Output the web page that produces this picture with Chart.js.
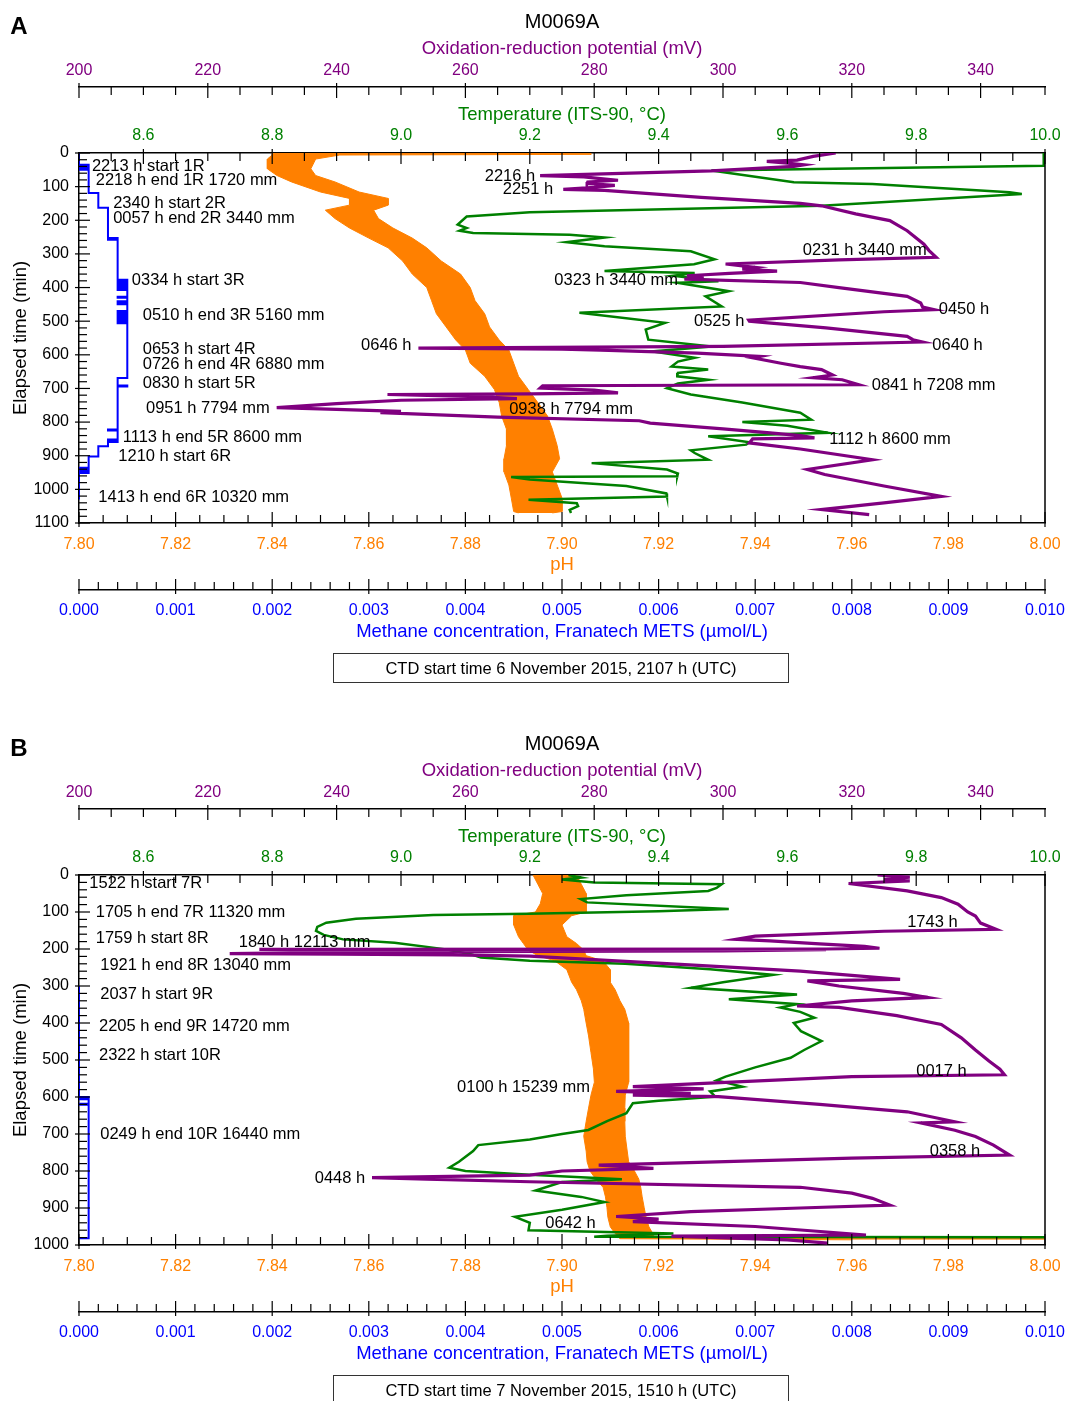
<!DOCTYPE html>
<html>
<head>
<meta charset="utf-8">
<script src="https://cdn.jsdelivr.net/npm/chart.js@4.4.0/dist/chart.umd.min.js"></script>
<style>
  body { margin: 0; background: #fff; width: 1067px; height: 1401px; overflow: hidden; position: relative; }
  canvas { position: absolute; left: 0; }
</style>
</head>
<body>
<canvas id="chartA" width="1067" height="700" style="top:0"></canvas>
<canvas id="chartB" width="1067" height="700" style="top:722px"></canvas>
<script>
// tick labels
const orpTicks = [200, 220, 240, 260, 280, 300, 320, 340];
const tempTicks = [8.6, 8.8, 9.0, 9.2, 9.4, 9.6, 9.8, 10.0];
const phTicks = [7.80, 7.82, 7.84, 7.86, 7.88, 7.90, 7.92, 7.94, 7.96, 7.98, 8.00];
const methTicks = [0, 0.001, 0.002, 0.003, 0.004, 0.005, 0.006, 0.007, 0.008, 0.009, 0.010];
const timeTicksA = [0, 100, 200, 300, 400, 500, 600, 700, 800, 900, 1000, 1100];
const timeTicksB = [0, 100, 200, 300, 400, 500, 600, 700, 800, 900, 1000];

// ---- A: CTD 6 November 2015 ----  [elapsed min, value]
const orpA = [[0,317.5],[10,314],[21,311.5],[25,306.8],[30,310],[35,312.6],[40,311],[53,298.2],[67,271.6],[71,278.4],[76,281],[81,283.7],[86,279],[91,278.9],[96,283.2],[102,280],[108,275.2],[111,281.6],[132,296.6],[150,312],[157,315.3],[181,320.6],[201,325.9],[231,328.6],[271,331.2],[290,332],[310,333.1],[318,318],[330,300.4],[340,305],[345,303],[351,308.4],[358,301],[365,294.4],[370,297],[375,294],[385,312],[400,318],[426,328.6],[446,330.7],[458,331],[466,332.8],[472,325],[497,304],[500,304.1],[505,307],[520,316],[545,328.6],[555,329.5],[562,331],[575,300],[580,252.7],[583,275],[586,281],[595,296],[605,305.7],[609,304.6],[625,309],[635,312],[644,315.3],[660,317],[668,314],[674,318.5],[689,321.1],[692,272],[699,271.6],[705,280],[713,283.7],[716,270],[718,247.9],[724,262],[730,268],[735,250],[745,240],[757,230.7],[762,240],[768,250],[772,246.8],[785,265],[796,287],[803,288.7],[820,300],[832,307.3],[840,312],[847,314.2],[850,304.6],[862,304.1],[880,312],[912,323.2],[941,313.1],[956,315.8],[990,325],[1021,333.9],[1040,325],[1060,315.3],[1075,322.7]];
const tempA = [[0,9.998],[38,9.998],[52,9.482],[87,9.61],[92,9.732],[117,9.945],[122,9.964],[157,9.653],[176,9.2],[189,9.102],[213,9.088],[223,9.102],[231,9.091],[238,9.112],[243,9.262],[251,9.316],[265,9.257],[277,9.316],[292,9.45],[316,9.487],[331,9.455],[351,9.316],[357,9.456],[365,9.423],[381,9.493],[386,9.429],[411,9.509],[426,9.473],[456,9.498],[475,9.277],[505,9.41],[525,9.38],[555,9.384],[575,9.482],[590,9.39],[609,9.456],[620,9.43],[635,9.42],[644,9.477],[654,9.43],[664,9.429],[674,9.477],[685,9.43],[699,9.413],[718,9.45],[742,9.53],[772,9.62],[793,9.637],[800,9.53],[811,9.6],[832,9.663],[842,9.477],[860,9.541],[867,9.536],[884,9.45],[892,9.456],[912,9.477],[922,9.296],[941,9.413],[953,9.43],[961,9.429],[963,9.171],[971,9.2],[990,9.35],[1012,9.412],[1021,9.413],[1031,9.198],[1041,9.273],[1050,9.275],[1061,9.262],[1070,9.264]];
// pH: [min, low edge, high edge]
const phA = [[0,7.842,7.850],[2,7.840,7.906],[4,7.840,7.906],[6,7.840,7.854],[18,7.839,7.849],[47,7.839,7.848],[67,7.841,7.849],[86,7.844,7.853],[116,7.850,7.858],[135,7.856,7.864],[155,7.856,7.864],[170,7.851,7.861],[195,7.853,7.862],[223,7.856,7.865],[253,7.860,7.869],[282,7.864,7.872],[321,7.867,7.875],[360,7.869,7.879],[400,7.872,7.881],[439,7.873,7.882],[478,7.874,7.884],[517,7.876,7.885],[556,7.878,7.887],[586,7.880,7.889],[625,7.881,7.890],[664,7.884,7.891],[703,7.886,7.893],[742,7.887,7.895],[782,7.8875,7.897],[821,7.8885,7.898],[870,7.8885,7.899],[909,7.888,7.8995],[948,7.888,7.898],[987,7.889,7.899],[1026,7.8895,7.900],[1066,7.890,7.900],[1070,7.891,7.898]];
// methane: value held from this minute on
const methA = [[0,0],[35,0.0001],[38,0],[42,0.0001],[46,0],[50,0.0001],[119,0.0002],[163,0.0003],[253,0.0004],[256,0.0003],[258,0.0004],[377,0.0005],[380,0.0004],[384,0.0005],[388,0.0004],[392,0.0005],[396,0.0004],[400,0.0005],[404,0.0004],[407,0.0005],[427,0.0004],[430,0.0005],[441,0.0004],[444,0.0005],[447,0.0004],[450,0.0005],[470,0.0004],[474,0.0005],[478,0.0004],[482,0.0005],[486,0.0004],[490,0.0005],[494,0.0004],[498,0.0005],[502,0.0004],[506,0.0005],[669,0.0004],[691,0.0005],[694,0.0004],[822,0.0003],[825,0.0004],[852,0.0003],[856,0.0004],[859,0.0003],[872,0.0002],[902,0.0001],[936,0],[940,0.0001],[944,0],[948,0.0001],[951,0],[1030,0]];

// ---- B: CTD 7 November 2015 ----
const orpB = [[0,324],[6,329],[12,325],[16,329],[23,319.5],[43,328.6],[61,333.9],[79,336.5],[100,338],[111,339.2],[130,340],[147,342.4],[152,325],[165,305],[174,302],[178,307.3],[186,315],[193,322],[198,324.3],[200,316],[201,228],[202,316],[205,300],[207,258],[210,236],[212.6,223.4],[214,240],[216,258],[219,270],[240,292],[260,312],[282,327.5],[286,313.1],[300,318],[320,328],[331,331.8],[340,320],[354,311.5],[358,318],[380,327],[404,333.9],[440,337],[473,339.2],[503,341.3],[525,343],[540,343.7],[545,320],[572,286],[578,297],[585,283.4],[590,295],[595,286],[599,299.3],[620,315],[640,328.6],[667,336],[670,330.7],[690,336],[707,339.2],[730,342],[757,344.5],[765,320],[784,280.7],[793,289.2],[800,275],[811,270],[815,255],[818,245.5],[822,254],[829,270],[844,312],[860,320],[874,323.2],[892,325.9],[900,312],[910,295],[923,283.4],[930,290],[937,286],[950,305],[973,322.2],[976,292],[986,310],[995,316.3]];
const tempB = [[0,9.26],[7,9.28],[12,9.25],[20,9.3],[25,9.498],[35,9.49],[43,9.477],[55,9.35],[65,9.279],[74,9.289],[92,9.509],[98,9.4],[105,9.198],[108,9.05],[118,8.93],[129,8.884],[140,8.87],[151,8.868],[162,8.88],[174,8.91],[183,8.99],[201,9.07],[215,9.11],[223,9.124],[232,9.2],[237,9.3],[240,9.348],[255,9.48],[270,9.578],[290,9.5],[305,9.45],[323,9.615],[336,9.509],[349,9.615],[358,9.589],[370,9.62],[386,9.642],[400,9.61],[422,9.621],[449,9.653],[473,9.626],[494,9.605],[520,9.55],[545,9.504],[555,9.49],[572,9.53],[585,9.48],[599,9.488],[610,9.4],[617,9.36],[644,9.35],[665,9.32],[689,9.291],[700,9.25],[715,9.2],[730,9.12],[746,9.112],[775,9.09],[791,9.075],[800,9.1],[810,9.2],[822,9.343],[830,9.25],[853,9.209],[870,9.28],[884,9.316],[905,9.25],[924,9.177],[940,9.2],[960,9.198],[969,9.423],[975,9.32],[978,9.3],[979,10.0]];
const phB = [[0,7.894,7.903],[25,7.895,7.904],[50,7.896,7.905],[78,7.8955,7.905],[100,7.8945,7.905],[110,7.890,7.902],[135,7.890,7.900],[167,7.891,7.901],[185,7.892,7.903],[203,7.893,7.9045],[218,7.895,7.905],[232,7.8985,7.9085],[256,7.901,7.910],[290,7.902,7.910],[310,7.903,7.911],[340,7.904,7.912],[363,7.9045,7.913],[400,7.905,7.9138],[435,7.9055,7.9138],[480,7.906,7.9138],[524,7.9065,7.9138],[560,7.9067,7.9138],[595,7.906,7.9131],[630,7.9055,7.913],[666,7.905,7.913],[706,7.9045,7.9131],[746,7.905,7.9135],[775,7.9052,7.9138],[800,7.9058,7.915],[822,7.907,7.9159],[844,7.9085,7.9163],[870,7.909,7.9166],[898,7.9093,7.917],[925,7.9095,7.9174],[951,7.910,7.918],[969,7.911,7.9188],[980,7.912,7.919],[983,7.912,8.0],[986,7.96,8.0]];
const methB = [[300,0],[600,0.0001],[603,0],[606,0.0001],[618,0],[621,0.0001],[982,0],[984,0]];

// labels: [text, ORP mV (x), elapsed min (y)]
const notesA = [
  ['2213 h start 1R', 202.0, 38.6], ['2218 h end 1R 1720 mm', 202.6, 80.3],
  ['2340 h start 2R', 205.3, 148.6], ['0057 h end 2R 3440 mm', 205.3, 193.2],
  ['0334 h start 3R', 208.2, 377.6], ['0510 h end 3R 5160 mm', 209.9, 481.6],
  ['0653 h start 4R', 209.9, 582.7], ['0726 h end 4R 6880 mm', 209.9, 627.3],
  ['0830 h start 5R', 209.9, 683.8], ['0951 h 7794 mm', 210.4, 758],
  ['1113 h end 5R 8600 mm', 206.8, 844.3], ['1210 h start 6R', 206.1, 900.8],
  ['1413 h end 6R 10320 mm', 203, 1022.7],
  ['2216 h', 263, 68.4], ['2251 h', 265.8, 107], ['0231 h 3440 mm', 312.4, 288.4],
  ['0323 h 3440 mm', 273.8, 377.6], ['0450 h', 333.5, 463.8], ['0525 h', 295.5, 499.5],
  ['0646 h', 243.8, 570.8], ['0640 h', 332.5, 570.8], ['0841 h 7208 mm', 323.1, 689.7],
  ['0938 h 7794 mm', 266.8, 761], ['1112 h 8600 mm', 316.5, 850.3]
];
const notesB = [
  ['1522 h start 7R', 201.6, 21.6], ['1705 h end 7R 11320 mm', 202.6, 100],
  ['1759 h start 8R', 202.6, 170.3], ['1840 h 12113 mm', 224.8, 181],
  ['1921 h end 8R 13040 mm', 203.3, 243.2], ['2037 h start 9R', 203.3, 321.6],
  ['2205 h end 9R 14720 mm', 203.1, 408], ['2322 h start 10R', 203.1, 489],
  ['0249 h end 10R 16440 mm', 203.3, 700],
  ['1743 h', 328.6, 127], ['0100 h 15239 mm', 258.7, 573], ['0017 h', 330, 529.7],
  ['0358 h', 332.1, 746], ['0448 h', 236.6, 819], ['0642 h', 272.4, 940.5]
];

const FONT = '"Liberation Sans", Arial, Helvetica, sans-serif';
Chart.defaults.font.family = FONT;
Chart.defaults.color = '#000';

const PURPLE = '#800080', GREEN = '#008000', ORANGE = '#ff8000', BLUE = '#0000ff';

function pts(arr) { return arr.map(([t, v]) => ({ x: v, y: t })); }
function steps(arr) {
  const out = [];
  arr.forEach(([t, v], i) => {
    if (i > 0) out.push({ x: arr[i - 1][1], y: t });
    out.push({ x: v, y: t });
  });
  return out;
}

function xAxis(pos, weight, min, max, tickVals, digits, color, title, size, tickPad, titlePad) {
  return {
    type: 'linear', position: pos, weight: weight, min: min, max: max,
    afterBuildTicks: s => { s.ticks = tickVals.map(v => ({ value: v })); },
    afterFit: s => { s.height = size; s.paddingLeft = 0; s.paddingRight = 0; },
    grid: { display: false, drawTicks: false },
    border: { display: true, color: '#000', width: 1.5 },
    ticks: { color: color, font: { size: 16 }, padding: tickPad, autoSkip: false, maxRotation: 0,
             callback: v => Number(v).toFixed(digits) },
    title: { display: true, text: title, color: color, font: { size: 18.5 }, padding: titlePad }
  };
}

function decor(letter, notes, ctdText) {
  return {
    id: 'decor' + letter,
    afterDraw(chart) {
      const ctx = chart.ctx, a = chart.chartArea, s = chart.scales;
      ctx.save();
      ctx.strokeStyle = '#000';
      ctx.lineWidth = 1.5;
      const seg = (x1, y1, x2, y2) => { ctx.beginPath(); ctx.moveTo(x1, y1); ctx.lineTo(x2, y2); ctx.stroke(); };
      seg(a.right, a.top, a.right, a.bottom);
      ctx.lineWidth = 1.2;
      const hTicks = (sc, y0, min, max, major, minor, dir) => {
        const n = Math.round((max - min) / minor);
        for (let i = 0; i <= n; i++) {
          const v = min + i * minor;
          const x = sc.getPixelForValue(v);
          const big = Math.abs(v / major - Math.round(v / major)) < 1e-6;
          if (big) seg(x, y0 - 4 * dir, x, y0 + 11 * dir); else seg(x, y0, x, y0 + 8 * dir);
        }
      };
      hTicks(s.xOrp, s.xOrp.bottom, 200, 350, 20, 5, 1);
      hTicks(s.xTemp, a.top, 8.5, 10.0, 0.2, 0.05, 1);
      hTicks(s.xPh, a.bottom, 7.8, 8.0, 0.02, 0.005, -1);
      hTicks(s.xMeth, s.xMeth.top, 0, 0.01, 0.001, 0.0002, -1);
      const ys = s.y;
      for (let v = ys.min; v <= ys.max; v += 20) {
        const y = ys.getPixelForValue(v);
        if (v % 100 === 0) seg(a.left - 4, y, a.left + 11, y); else seg(a.left, y, a.left + 8, y);
      }
      ctx.fillStyle = '#000';
      ctx.textBaseline = 'middle';
      ctx.textAlign = 'center';
      ctx.font = 'bold 24px ' + FONT;
      ctx.fillText(letter, 19, 27);
      ctx.font = '20px ' + FONT;
      ctx.fillText('M0069A', (a.left + a.right) / 2, 22);
      ctx.lineWidth = 1;
      ctx.strokeStyle = '#333';
      ctx.strokeRect(333.5, 653.5, 455, 29);
      ctx.font = '16.5px ' + FONT;
      ctx.fillText(ctdText, 561, 669);
      ctx.textAlign = 'left';
      notes.forEach(([txt, mv, t]) => ctx.fillText(txt, s.xOrp.getPixelForValue(mv), ys.getPixelForValue(t)));
      ctx.restore();
    }
  };
}

function makeChart(id, letter, orp, temp, ph, meth, notes, tMax, tTicks, ctdText) {
  return new Chart(document.getElementById(id), {
    type: 'line',
    data: {
      datasets: [
        { data: pts(orp), xAxisID: 'xOrp', yAxisID: 'y', borderColor: PURPLE, borderWidth: 3.2, order: 1 },
        { data: pts(temp), xAxisID: 'xTemp', yAxisID: 'y', borderColor: GREEN, borderWidth: 2.5, order: 2 },
        { data: steps(meth), xAxisID: 'xMeth', yAxisID: 'y', borderColor: BLUE, borderWidth: 2, order: 3 },
        { data: ph.map(r => ({ x: r[1], y: r[0] })), xAxisID: 'xPh', yAxisID: 'y', borderColor: ORANGE, borderWidth: 1, order: 4 },
        { data: ph.map(r => ({ x: r[2], y: r[0] })), xAxisID: 'xPh', yAxisID: 'y', borderColor: ORANGE, borderWidth: 1,
          backgroundColor: ORANGE, fill: '-1', order: 4 }
      ]
    },
    options: {
      responsive: false,
      animation: false,
      indexAxis: 'y',
      layout: { padding: { top: 31, right: 22, bottom: 50, left: 0 } },
      elements: { point: { radius: 0 }, line: { tension: 0 } },
      plugins: { legend: { display: false }, tooltip: { enabled: false } },
      scales: {
        y: {
          type: 'linear', position: 'left', reverse: true, min: 0, max: tMax,
          afterBuildTicks: s => { s.ticks = tTicks.map(v => ({ value: v })); },
          afterFit: s => { s.width = 79; s.paddingTop = 0; s.paddingBottom = 0; },
          grid: { display: false, drawTicks: false },
          border: { display: true, color: '#000', width: 1.5 },
          ticks: { font: { size: 16 }, padding: 10, autoSkip: false, callback: v => String(v) },
          title: { display: true, text: 'Elapsed time (min)', font: { size: 18.5 }, padding: { top: 10, bottom: 0 } }
        },
        xTemp: xAxis('top', 0, 8.5, 10.0, tempTicks, 1, GREEN, 'Temperature (ITS-90, °C)', 66, 7.6, { top: 16.5, bottom: 0 }),
        xOrp: xAxis('top', 1, 200, 350, orpTicks, 0, PURPLE, 'Oxidation-reduction potential (mV)', 56, 6.6, { top: 7.3, bottom: 0 }),
        xPh: xAxis('bottom', 0, 7.8, 8.0, phTicks, 2, ORANGE, 'pH', 67, 12, { top: 0, bottom: 14 }),
        xMeth: xAxis('bottom', 1, 0, 0.01, methTicks, 3, BLUE, 'Methane concentration, Franatech METS (µmol/L)', 60, 11.4, { top: 0, bottom: 7.2 })
      }
    },
    plugins: [decor(letter, notes, ctdText)]
  });
}

makeChart('chartA', 'A', orpA, tempA, phA, methA, notesA, 1100, timeTicksA, 'CTD start time 6 November 2015, 2107 h (UTC)');
makeChart('chartB', 'B', orpB, tempB, phB, methB, notesB, 1000, timeTicksB, 'CTD start time 7 November 2015, 1510 h (UTC)');
</script>
</body>
</html>
